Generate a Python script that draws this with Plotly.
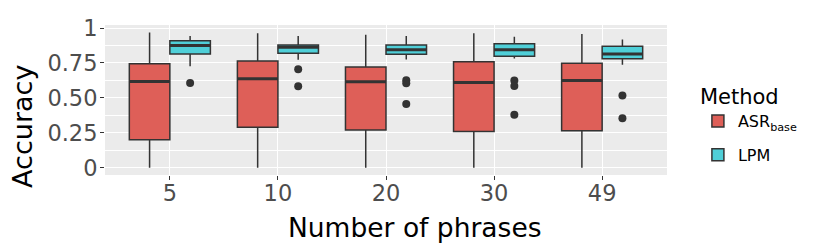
import plotly.graph_objects as go

categories = ['5', '10', '20', '30', '49']

asr_low = [0.0, 0.0, 0.0, 0.0, 0.0]
asr_q1 = [0.20, 0.29, 0.27, 0.26, 0.265]
asr_med = [0.617, 0.637, 0.616, 0.611, 0.625]
asr_q3 = [0.745, 0.765, 0.722, 0.758, 0.749]
asr_high = [0.968, 0.963, 0.952, 0.963, 0.958]

lpm_low = [0.727, 0.773, 0.775, 0.782, 0.737]
lpm_q1 = [0.815, 0.82, 0.812, 0.798, 0.78]
lpm_med = [0.876, 0.862, 0.844, 0.844, 0.815]
lpm_q3 = [0.91, 0.879, 0.879, 0.888, 0.869]
lpm_high = [0.943, 0.943, 0.943, 0.938, 0.919]
lpm_outliers = [[0.606], [0.706, 0.583], [0.627, 0.605, 0.457], [0.625, 0.585, 0.379], [0.517, 0.355]]

ytick_vals = [0, 0.25, 0.5, 0.75, 1]
ytick_text = ['0', '0.25', '0.50', '0.75', '1']

RED = '#DE5F58'
CYAN = '#4FCFD8'
LINE = '#333333'
DODGE = 0.1875
BW = 0.375

pos = list(range(1, len(categories) + 1))
asr_x = [p - DODGE for p in pos]
lpm_x = [p + DODGE for p in pos]

fig = go.Figure()

def add_box(name, xs, low, q1, med, q3, high, color, group):
    fig.add_trace(go.Box(
        x=xs, lowerfence=low, q1=q1, median=med, q3=q3, upperfence=high,
        name=name, fillcolor=color, line=dict(color=LINE, width=1.5),
        width=BW, whiskerwidth=0, boxpoints=False, legendgroup=group,
    ))
    # thicker median lines (ggplot style)
    mx, my = [], []
    for x, m in zip(xs, med):
        mx += [x - BW / 2, x + BW / 2, None]
        my += [m, m, None]
    fig.add_trace(go.Scatter(x=mx, y=my, mode='lines', line=dict(color=LINE, width=3),
                             showlegend=False, hoverinfo='skip', legendgroup=group))

add_box('ASR<sub>base</sub>', asr_x, asr_low, asr_q1, asr_med, asr_q3, asr_high, RED, 'a')
add_box('LPM', lpm_x, lpm_low, lpm_q1, lpm_med, lpm_q3, lpm_high, CYAN, 'b')

ox, oy = [], []
for x, outs in zip(lpm_x, lpm_outliers):
    for o in outs:
        ox.append(x)
        oy.append(o)
fig.add_trace(go.Scatter(x=ox, y=oy, mode='markers', marker=dict(color=LINE, size=8),
                         showlegend=False, hoverinfo='skip'))

# page body keeps the browser's default 8px margin, so the figure is 8px smaller
fig.update_layout(
    template='none',
    width=822, height=244,
    margin=dict(l=97, r=163, t=17, b=77, pad=0),
    paper_bgcolor='white', plot_bgcolor='#EBEBEB',
    font=dict(family='DejaVu Sans', color='black'),
    legend=dict(
        title=dict(text='Method', font=dict(size=21, color='black')),
        font=dict(size=16, color='black'),
        x=1.055, xanchor='left', y=0.655, yanchor='top',
        tracegroupgap=10, bgcolor='rgba(0,0,0,0)',
    ),
    showlegend=True,
    annotations=[
        dict(text='Number of phrases', xref='paper', yref='paper', x=0.5516, y=-0.35,
             xanchor='center', yanchor='middle', showarrow=False,
             font=dict(size=26.5, color='black')),
        dict(text='Accuracy', xref='paper', yref='paper', x=-0.146, y=0.327,
             xanchor='center', yanchor='middle', showarrow=False, textangle=-90,
             font=dict(size=27, color='black')),
    ],
)

fig.update_xaxes(
    automargin=False, showline=False,
    range=[0.4, 5.6], tickmode='array', tickvals=pos, ticktext=categories,
    showgrid=True, gridcolor='white', gridwidth=1.2, zeroline=False,
    ticks='outside', ticklen=4, tickcolor=LINE, tickwidth=1,
    tickfont=dict(size=22.5, color='#4D4D4D'), ticklabelstandoff=-6,
)
fig.update_yaxes(
    automargin=False, showline=False,
    range=[-0.052, 1.022], tickmode='array', tickvals=ytick_vals, ticktext=ytick_text,
    showgrid=True, gridcolor='white', gridwidth=1.2, zeroline=False,
    minor=dict(tickvals=[0.125, 0.375, 0.625, 0.875], showgrid=True, gridcolor='white', gridwidth=0.6, ticks=''),
    ticks='outside', ticklen=4, tickcolor=LINE, tickwidth=1,
    tickfont=dict(size=22.5, color='#4D4D4D'), ticklabelstandoff=-2,
)

fig.write_html('out.html')
